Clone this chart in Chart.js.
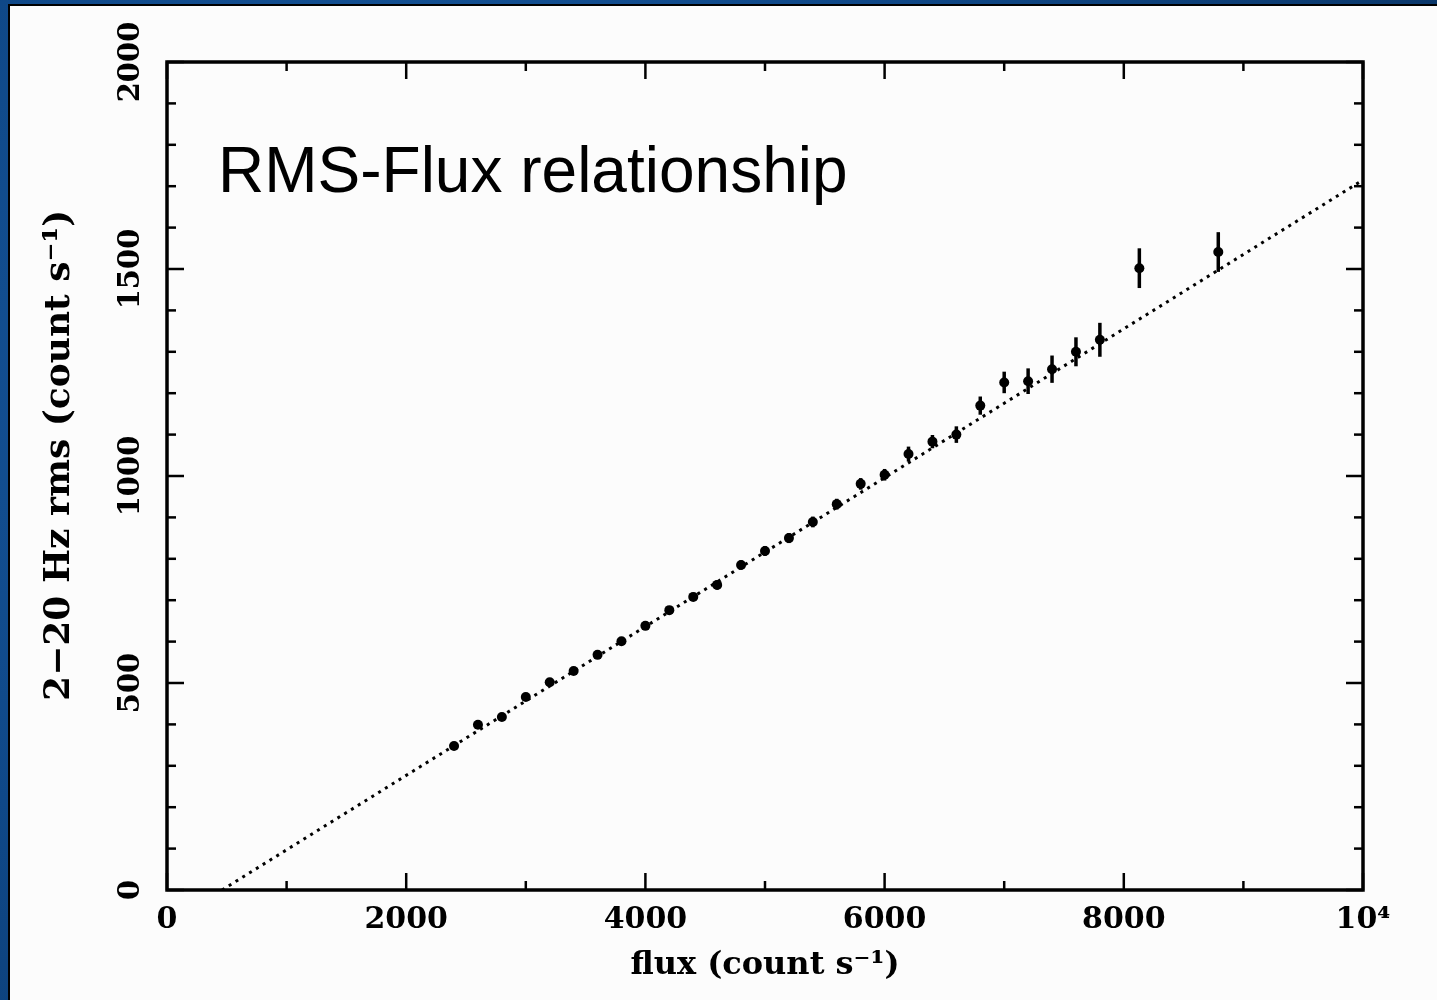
<!DOCTYPE html>
<html>
<head>
<meta charset="utf-8">
<script src="https://cdn.jsdelivr.net/npm/chart.js@4.4.1/dist/chart.umd.min.js"></script>
<style>
  html, body { margin: 0; padding: 0; }
  body {
    width: 1437px; height: 1000px; overflow: hidden; position: relative;
    background: radial-gradient(circle at 30% 40%, #1a5ca3 0%, #0f4888 50%, #0a3566 100%);
  }
  #panel {
    position: absolute; left: 8px; top: 4px; right: 0; bottom: 0;
    background: #fcfcfc; border-left: 2px solid #000; border-top: 2px solid #000;
  }
  #chart { position: absolute; left: 0; top: 0; }
  #label {
    position: absolute; left: 218px; top: 138px; color: #000; white-space: nowrap;
    font: 64px "Liberation Sans", Arial, sans-serif; line-height: 64px;
  }
</style>
</head>
<body>
<div id="panel"></div>
<canvas id="chart" width="1437" height="1000"></canvas>
<div id="label">RMS-Flux relationship</div>
<script>
// measured points (flux, rms, error)
const fluxValues = [2400, 2600, 2800, 3000, 3200, 3400, 3600, 3800, 4000, 4200,
    4400, 4600, 4800, 5000, 5200, 5400, 5600, 5800, 6000, 6200,
    6400, 6600, 6800, 7000, 7200, 7400, 7600, 7800, 8130, 8790];
const rmsValues = [348, 399, 418, 466, 502, 529, 568, 601, 638, 676,
    708, 737, 785, 819, 850, 889, 932, 981, 1003, 1053,
    1083, 1100, 1170, 1226, 1229, 1258, 1300, 1329, 1502, 1541];
const rmsErrors = [7, 7, 8, 8, 8, 9, 9, 9, 10, 10,
    10, 11, 11, 12, 12, 13, 13, 14, 14, 18,
    16, 20, 22, 26, 31, 33, 35, 41, 48, 48];

// linear fit
const fitFlux = [460, 10000];
const fitRms = [0, 1715];

const xTickValues = [0, 2000, 4000, 6000, 8000, 10000];
const xTickLabels = ['0', '2000', '4000', '6000', '8000', '10⁴'];
const yTickValues = [0, 500, 1000, 1500, 2000];
const yTickLabels = ['0', '500', '1000', '1500', '2000'];
const yTitle = '2−20 Hz rms (count s⁻¹)';

Chart.defaults.font.family = '"DejaVu Serif", serif';
Chart.defaults.color = '#000';

// error bars under the points
const errorBars = {
    id: 'errorBars',
    beforeDatasetsDraw(chart) {
        const {ctx, scales: {x, y}} = chart;
        ctx.save();
        ctx.strokeStyle = '#000';
        ctx.lineWidth = 3.5;
        fluxValues.forEach((f, i) => {
            const px = x.getPixelForValue(f);
            ctx.beginPath();
            ctx.moveTo(px, y.getPixelForValue(rmsValues[i] - rmsErrors[i]));
            ctx.lineTo(px, y.getPixelForValue(rmsValues[i] + rmsErrors[i]));
            ctx.stroke();
        });
        ctx.restore();
    }
};

// box with inward ticks on all sides, rotated y labels and title
const frame = {
    id: 'frame',
    afterDraw(chart) {
        const {ctx, chartArea: a, scales: {x, y}} = chart;
        ctx.save();
        ctx.strokeStyle = '#000';
        ctx.lineWidth = 2.5;
        const seg = (x1, y1, x2, y2) => {
            ctx.beginPath(); ctx.moveTo(x1, y1); ctx.lineTo(x2, y2); ctx.stroke();
        };
        x.ticks.forEach(t => {
            const px = x.getPixelForValue(t.value);
            const len = t.value % 2000 === 0 ? 17 : 9;
            seg(px, a.bottom, px, a.bottom - len);
            seg(px, a.top, px, a.top + len);
        });
        y.ticks.forEach(t => {
            const py = y.getPixelForValue(t.value);
            const len = t.value % 500 === 0 ? 17 : 9;
            seg(a.left, py, a.left + len, py);
            seg(a.right, py, a.right - len, py);
        });
        ctx.lineWidth = 3.5;
        ctx.strokeRect(a.left, a.top, a.width, a.height);

        ctx.fillStyle = '#000';
        ctx.textAlign = 'center';
        ctx.textBaseline = 'middle';
        ctx.font = 'bold 29px "DejaVu Serif"';
        yTickValues.forEach((v, i) => {
            ctx.save();
            ctx.translate(131, y.getPixelForValue(v));
            ctx.rotate(-Math.PI / 2);
            ctx.fillText(yTickLabels[i], 0, 0);
            ctx.restore();
        });
        ctx.font = 'bold 36px "DejaVu Serif"';
        ctx.translate(60, y.getPixelForValue(1050));
        ctx.rotate(-Math.PI / 2);
        ctx.fillText(yTitle, 0, 0);
        ctx.restore();
    }
};

new Chart(document.getElementById('chart'), {
    data: {
        datasets: [{
            type: 'scatter',
            data: fluxValues.map((f, i) => ({x: f, y: rmsValues[i]})),
            backgroundColor: '#000',
            borderColor: '#000',
            pointRadius: 5,
            borderWidth: 0
        }, {
            type: 'line',
            data: fitFlux.map((f, i) => ({x: f, y: fitRms[i]})),
            borderColor: '#000',
            borderWidth: 3,
            borderDash: [3, 5],
            pointRadius: 0,
            fill: false
        }]
    },
    options: {
        responsive: false,
        animation: false,
        devicePixelRatio: 1,
        layout: { padding: { top: 62, right: 74, left: 0, bottom: 0 } },
        plugins: { legend: { display: false }, tooltip: { enabled: false } },
        scales: {
            x: {
                type: 'linear', min: 0, max: 10000,
                grid: { display: false, drawTicks: false },
                border: { display: false },
                ticks: {
                    stepSize: 1000, autoSkip: false, maxRotation: 0, padding: 12,
                    font: { size: 30, weight: 'bold' },
                    callback: v => {
                        const i = xTickValues.indexOf(v);
                        return i >= 0 ? xTickLabels[i] : '';
                    }
                },
                title: {
                    display: true, text: 'flux (count s⁻¹)',
                    font: { size: 32, weight: 'bold' },
                    padding: { top: 0, bottom: 15 }
                },
                afterFit: s => { s.height = 110; }
            },
            y: {
                type: 'linear', min: 0, max: 2000,
                grid: { display: false, drawTicks: false },
                border: { display: false },
                ticks: { stepSize: 100, display: false },
                title: { display: false },
                afterFit: s => { s.width = 167; }
            }
        }
    },
    plugins: [errorBars, frame]
});
</script>
</body>
</html>
